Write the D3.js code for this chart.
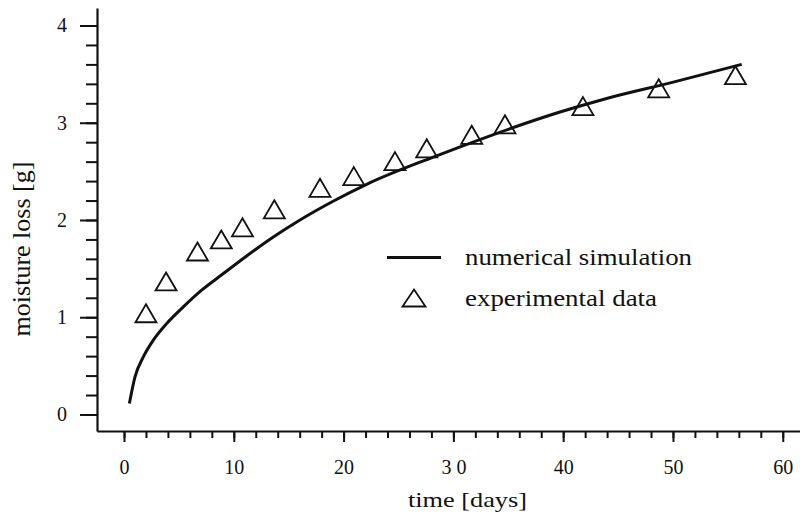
<!DOCTYPE html>
<html>
<head>
<meta charset="utf-8">
<script src="https://cdn.jsdelivr.net/npm/d3@7"></script>
<style>
  html, body { margin: 0; padding: 0; background: #fff; }
  svg { display: block; }
  text { font-family: "Liberation Serif", "Times New Roman", serif; fill: #111; }
</style>
</head>
<body>
<svg id="chart" width="800" height="517"></svg>
<script>
// ---- data ----
const simTime = [0.49, 1.00, 1.76, 2.67, 3.89, 5.40, 7.07, 9.05, 11.17, 13.60, 16.03, 19.00, 22.10, 28.17, 33.03, 39.71, 43.96, 50.03, 56.26];
const simLoss = [0.113, 0.387, 0.592, 0.764, 0.935, 1.106, 1.278, 1.449, 1.630, 1.825, 2.000, 2.190, 2.367, 2.647, 2.853, 3.110, 3.250, 3.418, 3.600];

const expTime = [2.00, 3.83, 6.69, 8.86, 10.79, 13.69, 17.85, 20.93, 24.68, 27.57, 31.67, 34.70, 41.80, 48.70, 55.69];
const expLoss = [1.041, 1.368, 1.676, 1.800, 1.925, 2.110, 2.331, 2.451, 2.605, 2.737, 2.876, 2.984, 3.171, 3.354, 3.489];

const xTicks = [0, 10, 20, 30, 40, 50, 60];
const xTickLabels = ["0", "10", "20", "3 0", "40", "50", "60"];
const xMinorTicks = d3.range(0, 62, 2);
const yTicks = [0, 1, 2, 3, 4];
const yTickLabels = ["0", "1", "2", "3", "4"];
const yMinorTicks = d3.range(0, 4.01, 0.2);

const xTitle = "time [days]";
const yTitle = "moisture loss [g]";
const legendLabels = ["numerical simulation", "experimental data"];

// ---- layout ----
const svg = d3.select("#chart");
const x = d3.scaleLinear().domain([-2.46, 61.57]).range([97, 800]);
const y = d3.scaleLinear().domain([-0.17, 4.18]).range([431, 8]);
const ink = "#111";

// minor ticks x
svg.append("g")
  .attr("transform", "translate(0,431)")
  .call(d3.axisBottom(x).tickValues(xMinorTicks).tickSize(7).tickSizeOuter(0).tickFormat(""))
  .call(g => g.select(".domain").remove())
  .call(g => g.selectAll("line").attr("stroke", ink).attr("stroke-width", 2));

// major x axis
const gx = svg.append("g")
  .attr("transform", "translate(0,431)")
  .call(d3.axisBottom(x).tickValues(xTicks).tickSize(11).tickSizeOuter(0)
    .tickFormat((d, i) => xTickLabels[i]));
gx.select(".domain").attr("stroke", ink).attr("stroke-width", 2.2);
gx.selectAll("line").attr("stroke", ink).attr("stroke-width", 2);
gx.selectAll("text").attr("font-size", 20).attr("y", 29).attr("dy", "0.71em")
  .attr("fill", ink);

// minor ticks y
svg.append("g")
  .attr("transform", "translate(97,0)")
  .call(d3.axisLeft(y).tickValues(yMinorTicks).tickSize(11).tickSizeOuter(0).tickFormat(""))
  .call(g => g.select(".domain").remove())
  .call(g => g.selectAll("line").attr("stroke", ink).attr("stroke-width", 2));

// major y axis
const gy = svg.append("g")
  .attr("transform", "translate(97,0)")
  .call(d3.axisLeft(y).tickValues(yTicks).tickSize(17).tickSizeOuter(0)
    .tickFormat((d, i) => yTickLabels[i]));
gy.select(".domain").attr("stroke", ink).attr("stroke-width", 2.2);
gy.selectAll("line").attr("stroke", ink).attr("stroke-width", 2);
gy.selectAll("text").attr("font-size", 20).attr("x", -30).attr("dy", "0.32em")
  .attr("fill", ink);

// axis titles
svg.append("text")
  .attr("x", 467.5).attr("y", 507)
  .attr("text-anchor", "middle")
  .attr("font-size", 22)
  .attr("textLength", 119).attr("lengthAdjust", "spacingAndGlyphs")
  .text(xTitle);

svg.append("text")
  .attr("transform", "translate(29.5,249) rotate(-90)")
  .attr("text-anchor", "middle")
  .attr("font-size", 26)
  .text(yTitle);

// simulation curve
const simData = simTime.map((t, i) => ({ t, v: simLoss[i] }));
const line = d3.line().x(d => x(d.t)).y(d => y(d.v)).curve(d3.curveMonotoneX);
svg.append("path")
  .datum(simData)
  .attr("d", line)
  .attr("fill", "none")
  .attr("stroke", ink)
  .attr("stroke-width", 3)
  .attr("stroke-linecap", "butt");

// triangle marker path (centred on bbox)
function tri(cx, cy, w, h) {
  const p = d3.path();
  p.moveTo(cx, cy - h / 2);
  p.lineTo(cx + w / 2, cy + h / 2);
  p.lineTo(cx - w / 2, cy + h / 2);
  p.closePath();
  return p.toString();
}

const expData = expTime.map((t, i) => ({ t, v: expLoss[i] }));
svg.append("g").selectAll("path")
  .data(expData)
  .join("path")
  .attr("d", d => tri(x(d.t), y(d.v), 21, 18))
  .attr("fill", "none")
  .attr("stroke", ink)
  .attr("stroke-width", 1.8)
  .attr("stroke-linejoin", "miter");

// legend
const lg = svg.append("g");
lg.append("line")
  .attr("x1", 387).attr("x2", 441).attr("y1", 257.5).attr("y2", 257.5)
  .attr("stroke", ink).attr("stroke-width", 3);
lg.append("text")
  .attr("x", 465).attr("y", 264.5)
  .attr("font-size", 24)
  .attr("textLength", 227).attr("lengthAdjust", "spacingAndGlyphs")
  .text(legendLabels[0]);
lg.append("path")
  .attr("d", tri(414, 298, 23, 17))
  .attr("fill", "none").attr("stroke", ink).attr("stroke-width", 1.8);
lg.append("text")
  .attr("x", 465).attr("y", 306)
  .attr("font-size", 24)
  .attr("textLength", 192).attr("lengthAdjust", "spacingAndGlyphs")
  .text(legendLabels[1]);
</script>
</body>
</html>
